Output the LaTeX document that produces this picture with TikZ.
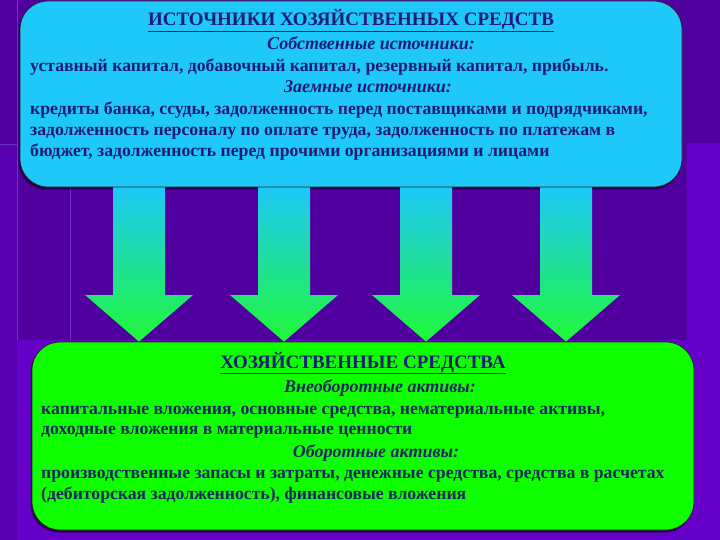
\documentclass[tikz,border=0pt]{standalone}
\usepackage{fontspec}
\setmainfont{Liberation Serif}
\usetikzlibrary{shadows}

\definecolor{bgbase}{HTML}{6400C8}
\definecolor{bgdark}{HTML}{4F009E}
\definecolor{bgside}{HTML}{5800B0}
\definecolor{bgline}{HTML}{7030C8}
\definecolor{srcfill}{HTML}{1EC8F8}
\definecolor{resfill}{HTML}{10FF00}
\definecolor{arrowgreen}{HTML}{20F838}
\definecolor{ink}{HTML}{1C1C78}
\definecolor{inkgreen}{HTML}{16285E}

\tikzset{
  panel/.style={rounded corners=28pt, draw=black!85, line width=0.8pt,
    drop shadow={shadow xshift=-1.5pt, shadow yshift=-2.5pt, fill=black, opacity=0.55}},
  txt/.style={inner sep=0pt, text=ink, font=\fontsize{17.7}{20}\selectfont\bfseries},
  txtline/.style={txt, anchor=base west},
  txthead/.style={txt, anchor=base, font=\fontsize{19}{20}\selectfont\bfseries},
  txtsub/.style={txt, anchor=base, font=\fontsize{18}{20}\selectfont\bfseries\itshape},
  flow/.style={top color=srcfill, bottom color=arrowgreen, draw=none}
}

\begin{document}
\begin{tikzpicture}[x=1pt, y=-1pt]
    \useasboundingbox (0,0) rectangle (720,540);
    % background
    \fill[bgbase] (0,0) rectangle (720,540);
    \fill[bgdark] (0,0) rectangle (687,340);
    \fill[bgdark] (687,0) rectangle (720,143);
    \fill[bgside] (0,145) rectangle (17,540);
    \draw[bgline, line width=1pt] (17,0) -- (17,340);
    \draw[bgline, line width=1pt] (0,145) -- (17,145);
    \draw[bgline, line width=1pt] (70,188) -- (70,340);

    % the two panels
    \node[panel, fill=srcfill, minimum width=662pt, minimum height=186pt] (srcbox) at (351,94) {};
    \node[panel, fill=resfill, minimum width=662pt, minimum height=188pt] (resbox) at (363,436) {};

    % arrows between the panels
    \foreach \x in {139,284,426,566} {
        \shade[flow] (\x-26,0 |- srcbox.south) -- (\x+26,0 |- srcbox.south) -- (\x+26,295)
            -- (\x+54,295) -- (\x,0 |- resbox.north) -- (\x-54,295) -- (\x-26,295) -- cycle;
    }

    % sources
    \node[txthead] (srctitle) at (351,26) {\underline{ИСТОЧНИКИ ХОЗЯЙСТВЕННЫХ СРЕДСТВ}};
    \node[txtsub] (srcown) at (371,50) {Собственные источники:};
    \node[txtline] (srcown1) at (30,72) {уставный капитал, добавочный капитал, резервный капитал, прибыль.};
    \node[txtsub] (srcloan) at (368,93) {Заемные источники:};
    \node[txtline] (srcloan1) at (30,115) {кредиты банка, ссуды, задолженность перед поставщиками и подрядчиками,};
    \node[txtline] (srcloan2) at (30,136) {задолженность персоналу по оплате труда, задолженность по платежам в};
    \node[txtline] (srcloan3) at (30,157) {бюджет, задолженность перед прочими организациями и лицами};

    % assets
    \node[txthead] (restitle) at (363,368) {\underline{ХОЗЯЙСТВЕННЫЕ СРЕДСТВА}};
    \node[txtsub, text=inkgreen] (resfix) at (380,392) {Внеоборотные активы:};
    \node[txtline, text=inkgreen] (resfix1) at (41,414) {капитальные вложения, основные средства, нематериальные активы,};
    \node[txtline, text=inkgreen] (resfix2) at (41,434) {доходные вложения в материальные ценности};
    \node[txtsub, text=inkgreen] (rescur) at (376,457) {Оборотные активы:};
    \node[txtline, text=inkgreen] (rescur1) at (41,478) {производственные запасы и затраты, денежные средства, средства в расчетах};
    \node[txtline, text=inkgreen] (rescur2) at (41,499) {(дебиторская задолженность), финансовые вложения};
\end{tikzpicture}
\end{document}
